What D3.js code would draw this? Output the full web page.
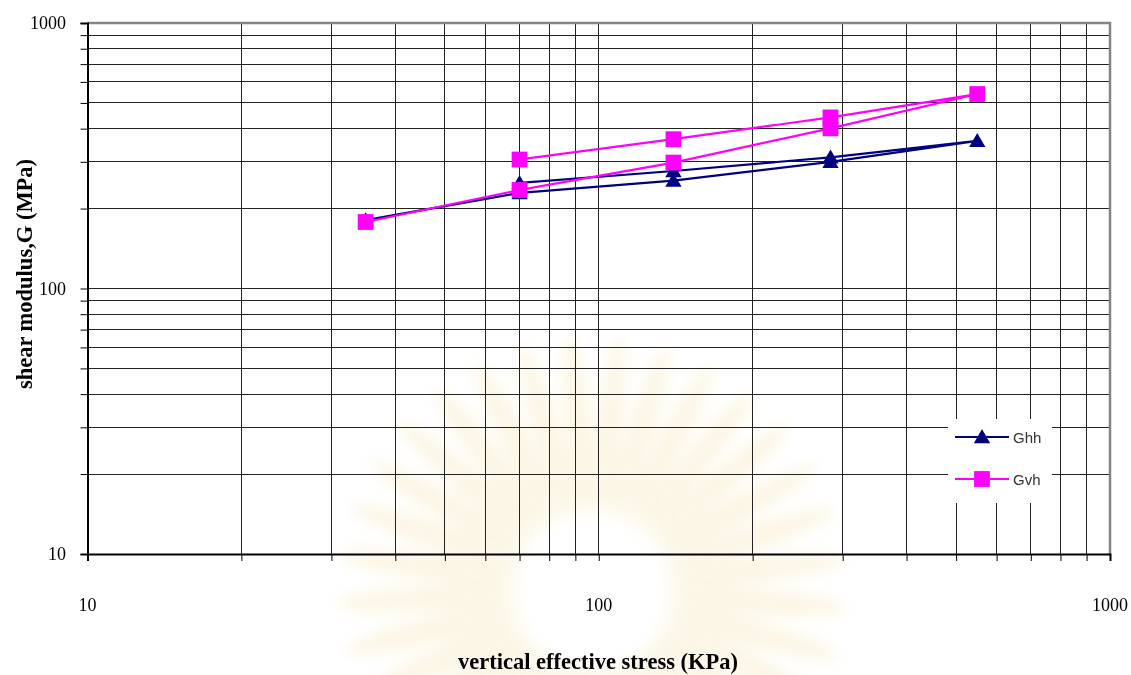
<!DOCTYPE html>
<html>
<head>
<meta charset="utf-8">
<script src="https://cdn.jsdelivr.net/npm/d3@7"></script>
<style>
  body { margin: 0; background: #fff; }
  svg { display: block; }
</style>
</head>
<body>
<div id="chart"></div>
<script>
// data (loading then unloading path)
const stress = [35, 70, 140, 284, 550, 284, 140, 70];
const Ghh = [181, 229, 255, 300, 360, 312, 277, 250];
const Gvh = [178, 235, 298, 401, 540, 441, 365, 306];
const seriesNames = ["Ghh", "Gvh"];
const majorTicks = [10, 100, 1000];

const width = 1131, height = 675;
const svg = d3.select("#chart").append("svg")
    .attr("width", width)
    .attr("height", height);

const x = d3.scaleLog().domain([10, 1000]).range([87.5, 1110]);
const y = d3.scaleLog().domain([10, 1000]).range([554, 23]);

// faint background watermark (sunburst)
const defs = svg.append("defs");
defs.append("filter").attr("id", "blur")
    .append("feGaussianBlur").attr("stdDeviation", 7);
const wm = svg.append("g")
    .attr("transform", "translate(592,590)")
    .attr("filter", "url(#blur)")
    .attr("opacity", 0.16);
d3.range(-170, 190, 11).forEach(a => {
    wm.append("ellipse")
        .attr("cx", 0).attr("cy", -165)
        .attr("rx", 13).attr("ry", 90)
        .attr("fill", "#e8c860")
        .attr("transform", `rotate(${a})`);
});

// grid lines: every 1..9 x decade
const gridVals = [];
[10, 100].forEach(d => d3.range(1, 10).forEach(k => gridVals.push(d * k)));
gridVals.push(1000);

const grid = svg.append("g").attr("shape-rendering", "crispEdges");
grid.selectAll(".vx").data(gridVals).join("line")
    .attr("x1", d => x(d)).attr("x2", d => x(d))
    .attr("y1", y(1000)).attr("y2", y(10))
    .attr("stroke", "#222").attr("stroke-width", 1);
grid.selectAll(".hy").data(gridVals).join("line")
    .attr("y1", d => y(d)).attr("y2", d => y(d))
    .attr("x1", x(10)).attr("x2", x(1000))
    .attr("stroke", "#222").attr("stroke-width", 1);

// plot border top/right (grey)
svg.append("path")
    .attr("d", `M${x(10)},${y(1000)}H${x(1000)}V${y(10)}`)
    .attr("fill", "none").attr("stroke", "#858585").attr("stroke-width", 2.5);

// axes
const yAxis = d3.axisLeft(y).tickValues(gridVals).tickSize(7).tickFormat(() => "");
const xAxis = d3.axisBottom(x).tickValues(gridVals).tickSize(7).tickFormat(() => "");
const gy = svg.append("g").attr("transform", `translate(${x(10)},0)`).call(yAxis);
const gx = svg.append("g").attr("transform", `translate(0,${y(10)})`).call(xAxis);
[gy, gx].forEach(g => {
    g.select(".domain").attr("stroke", "#000").attr("stroke-width", 2);
    g.selectAll(".tick line").attr("stroke", "#000").attr("stroke-width", 1);
});

// tick labels
svg.selectAll(".ylab").data(majorTicks).join("text")
    .attr("x", 66).attr("y", d => y(d) + 6)
    .attr("text-anchor", "end")
    .attr("font-family", "'Liberation Serif', 'Times New Roman', serif")
    .attr("font-size", 18)
    .text(d => d);
svg.selectAll(".xlab").data(majorTicks).join("text")
    .attr("x", d => x(d)).attr("y", 611)
    .attr("text-anchor", "middle")
    .attr("font-family", "'Liberation Serif', 'Times New Roman', serif")
    .attr("font-size", 18)
    .text(d => d);

// axis titles
svg.append("text")
    .attr("x", 598).attr("y", 669)
    .attr("text-anchor", "middle")
    .attr("font-family", "'Liberation Serif', 'Times New Roman', serif")
    .attr("font-weight", "bold").attr("font-size", 22.5)
    .text("vertical effective stress (KPa)");
svg.append("text")
    .attr("transform", "translate(32,274) rotate(-90)")
    .attr("text-anchor", "middle")
    .attr("font-family", "'Liberation Serif', 'Times New Roman', serif")
    .attr("font-weight", "bold").attr("font-size", 22.5)
    .text("shear modulus,G (MPa)");

// series
const colors = { Ghh: "#000080", Gvh: "#ff00ff" };
const triangle = d3.symbol().type(d3.symbolTriangle).size(115);
const square = d3.symbol().type(d3.symbolSquare).size(250);

function drawSeries(name, vals, sym) {
    const pts = stress.map((s, i) => ({ s: s, g: vals[i] }));
    const line = d3.line().x(d => x(d.s)).y(d => y(d.g));
    svg.append("path")
        .datum(pts)
        .attr("d", line)
        .attr("fill", "none")
        .attr("stroke", colors[name])
        .attr("stroke-width", 2.2);
    svg.append("g").selectAll("path").data(pts).join("path")
        .attr("d", sym)
        .attr("transform", d => `translate(${x(d.s)},${y(d.g) + (sym === triangle ? 1.5 : 0)})`)
        .attr("fill", colors[name]);
}
drawSeries("Ghh", Ghh, triangle);
drawSeries("Gvh", Gvh, square);

// legend
const leg = svg.append("g");
leg.append("rect")
    .attr("x", 948).attr("y", 419).attr("width", 104).attr("height", 84)
    .attr("fill", "#fff");
seriesNames.forEach((name, i) => {
    const ly = 437 + i * 42;
    leg.append("line")
        .attr("x1", 955).attr("x2", 1009).attr("y1", ly).attr("y2", ly)
        .attr("stroke", colors[name]).attr("stroke-width", 2.2);
    leg.append("path")
        .attr("d", i === 0 ? triangle : square)
        .attr("transform", `translate(982,${ly + (i === 0 ? 1.5 : 0)})`)
        .attr("fill", colors[name]);
    leg.append("text")
        .attr("x", 1013).attr("y", ly + 5.5)
        .attr("font-family", "'Liberation Sans', Arial, sans-serif")
        .attr("font-size", 15)
        .attr("fill", "#333")
        .text(name);
});
</script>
</body>
</html>
